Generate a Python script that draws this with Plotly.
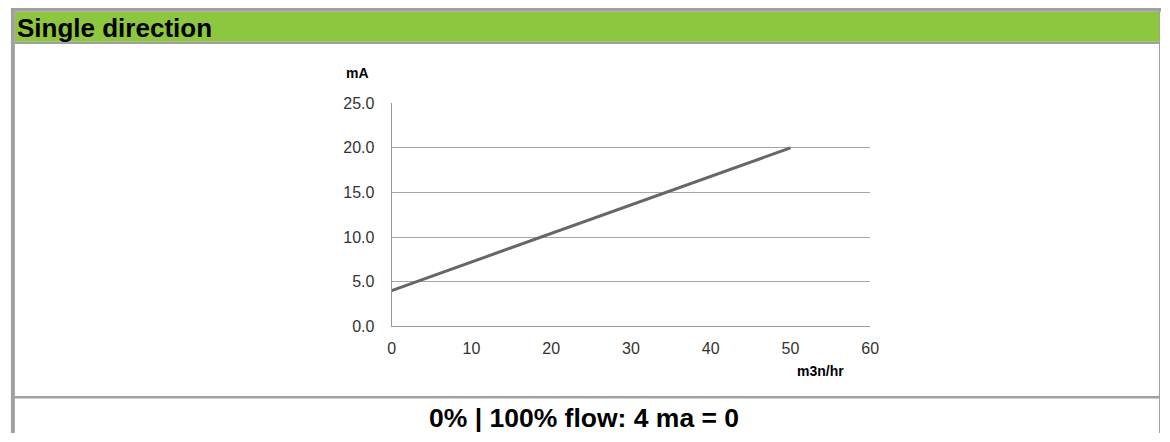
import plotly.graph_objects as go

W, H = 1170, 442

# Data
flow = [0, 50]          # m3n/hr
current = [4.0, 20.0]   # mA
x_ticks = [0, 10, 20, 30, 40, 50, 60]
y_ticks = [0, 5, 10, 15, 20, 25]

title_text = "Single direction"
footer_text = "0% | 100% flow: 4 ma = 0"


def px(x):
    return x / W


def py(y):
    return 1 - y / H


FONT = "Liberation Sans, Arial, sans-serif"
GRAY = "#a0a0a0"

fig = go.Figure()
fig.add_trace(go.Scatter(
    x=flow, y=current, mode="lines",
    line=dict(color="#666666", width=3),
    showlegend=False, hoverinfo="skip",
))

shapes = [
    dict(type="rect", xref="paper", yref="paper", x0=px(11), x1=px(1168), y0=py(35), y1=py(4),
         fillcolor="#8dc63f", line=dict(width=0), layer="below"),
    dict(type="rect", xref="paper", yref="paper", x0=px(7), x1=px(1170), y0=py(4), y1=py(0),
         fillcolor=GRAY, line=dict(width=0)),
    dict(type="rect", xref="paper", yref="paper", x0=px(7), x1=px(11), y0=py(442), y1=py(0),
         fillcolor=GRAY, line=dict(width=0)),
    dict(type="rect", xref="paper", yref="paper", x0=px(1168), x1=px(1169), y0=py(442), y1=py(0),
         fillcolor=GRAY, line=dict(width=0)),
    dict(type="rect", xref="paper", yref="paper", x0=px(11), x1=px(1168), y0=py(37.5), y1=py(35),
         fillcolor=GRAY, line=dict(width=0)),
    dict(type="rect", xref="paper", yref="paper", x0=px(11), x1=px(1168), y0=py(406), y1=py(403.5),
         fillcolor=GRAY, line=dict(width=0)),
]

annotations = [
    dict(text="<b>" + title_text + "</b>", xref="paper", yref="paper", x=px(11), y=py(21),
         xanchor="left", yanchor="middle", showarrow=False,
         font=dict(family=FONT, size=26, color="#000000")),
    dict(text="<b>mA</b>", xref="paper", yref="paper", x=px(344), y=py(68),
         xanchor="left", yanchor="middle", showarrow=False,
         font=dict(family=FONT, size=14, color="#000000")),
    dict(text="<b>m3n/hr</b>", xref="paper", yref="paper", x=px(800), y=py(378),
         xanchor="left", yanchor="middle", showarrow=False,
         font=dict(family=FONT, size=14, color="#000000")),
    dict(text="<b>" + footer_text + "</b>", xref="paper", yref="paper", x=px(587), y=py(426),
         xanchor="center", yanchor="middle", showarrow=False,
         font=dict(family=FONT, size=26.5, color="#000000")),
]

fig.update_layout(
    width=W, height=H, autosize=False,
    margin=dict(l=0, r=0, t=0, b=0),
    paper_bgcolor="white", plot_bgcolor="white",
    shapes=shapes, annotations=annotations,
    font=dict(family=FONT, size=16, color="#333333"),
    xaxis=dict(
        domain=[px(392), px(876)], range=[0, 60],
        tickvals=x_ticks, ticktext=[str(v) for v in x_ticks],
        showgrid=False, zeroline=False,
        showline=True, linecolor="#999999", linewidth=1,
        ticks="", ticklabelstandoff=8, fixedrange=True,
        tickfont=dict(size=16, color="#333333"),
    ),
    yaxis=dict(
        domain=[py(331), py(99)], range=[0, 25],
        tickvals=y_ticks, ticktext=["%.1f" % v for v in y_ticks],
        showgrid=True, gridcolor="#a6a6a6", gridwidth=1, zeroline=False,
        showline=True, linecolor="#999999", linewidth=1,
        ticks="", ticklabelstandoff=13, fixedrange=True,
        tickfont=dict(size=16, color="#333333"),
    ),
)

post = (
    "document.documentElement.style.margin='0';"
    "document.body.style.margin='0';document.body.style.padding='0';"
    "document.body.style.overflow='hidden';"
    "var d=document.getElementById('{plot_id}');"
    "d.style.position='fixed';d.style.left='0px';d.style.top='0px';"
)

fig.write_html("out.html", config=dict(displayModeBar=False), post_script=post)
